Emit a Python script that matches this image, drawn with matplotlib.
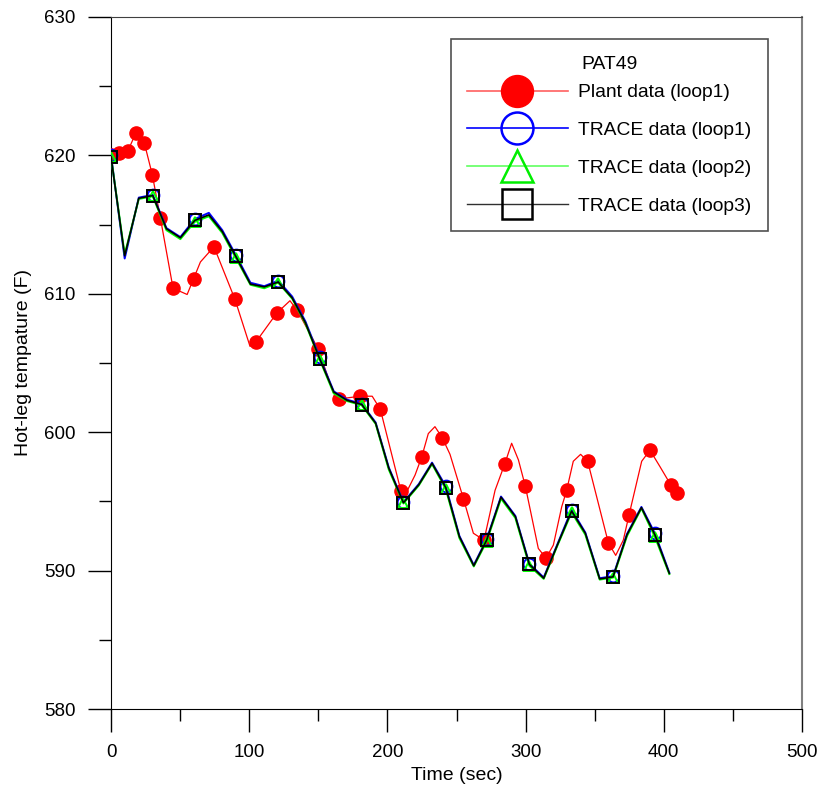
import matplotlib
matplotlib.use("Agg")
import matplotlib.pyplot as plt
from matplotlib.lines import Line2D
from matplotlib.ticker import MultipleLocator

plt.rcParams['font.family'] = ['Liberation Sans', 'DejaVu Sans']

# plant data (loop1): line vertices and measured points
plant_line_t = [0, 5.8, 12.1, 17.9, 24.1, 29.9, 35.7, 44.9, 55.1, 59.8, 64.7, 74.5,
                89.7, 100.6, 104.7, 119.9, 129.5, 134.8, 150.0, 160.9, 165.0, 180.2,
                189.0, 194.9, 209.8, 212.0, 220.0, 224.8, 229.6, 234.4, 239.7, 245.3,
                255.0, 262.2, 269.9, 277.9, 284.9, 289.9, 294.8, 299.8, 309.2, 314.8,
                320.1, 326.1, 329.7, 334.5, 339.8, 344.9, 359.9, 365.2, 370.7, 374.8,
                384.0, 390.0, 397.3, 405.0, 409.3]
plant_line_y = [620.0, 620.15, 620.3, 621.6, 620.9, 618.6, 615.5, 610.4, 609.95, 611.1,
                612.3, 613.4, 609.6, 606.2, 606.5, 608.6, 609.5, 608.8, 606.0, 602.85,
                602.4, 602.6, 602.6, 601.65, 595.75, 595.3, 596.9, 598.2, 599.9, 600.4,
                599.6, 598.4, 595.2, 592.7, 592.2, 595.8, 597.7, 599.2, 598.0, 596.1,
                591.6, 590.9, 591.85, 594.6, 595.8, 597.9, 598.4, 597.9, 592.0, 591.1,
                592.2, 594.0, 597.9, 598.7, 597.5, 596.2, 595.6]

plant_t = [0, 5.8, 12.1, 17.9, 24.1, 29.9, 35.7, 44.9, 59.8, 74.5, 89.7, 104.7, 119.9,
           134.8, 150.0, 165.0, 180.2, 194.9, 209.8, 224.8, 239.7, 255.0, 269.9, 284.9,
           299.8, 314.8, 329.7, 344.9, 359.9, 374.8, 390.0, 405.0, 409.3]
plant_y = [620.0, 620.15, 620.3, 621.6, 620.9, 618.6, 615.5, 610.4, 611.1, 613.4, 609.6,
           606.5, 608.6, 608.8, 606.0, 602.4, 602.6, 601.65, 595.75, 598.2, 599.6, 595.2,
           592.2, 597.7, 596.1, 590.9, 595.8, 597.9, 592.0, 594.0, 598.7, 596.2, 595.6]

# TRACE results
trace_t = [0, 9.9, 20.1, 30.2, 40.1, 50.2, 60.6, 70.8, 80.5, 90.3, 100.9, 110.9, 121.0,
           131.1, 140.7, 151.0, 161.2, 170.8, 181.4, 191.5, 201.0, 211.6, 222.7, 232.3,
           242.2, 252.1, 262.5, 271.8, 282.2, 292.6, 302.7, 313.1, 323.2, 333.3, 343.2,
           353.6, 363.3, 373.4, 383.8, 393.5, 404.0]
trace_loop1 = [620.0, 612.55, 616.95, 617.15, 614.75, 614.1, 615.4, 615.85, 614.6, 612.8,
               610.8, 610.55, 610.95, 609.8, 608.0, 605.4, 602.95, 602.35, 602.05, 600.7,
               597.45, 594.95, 596.25, 597.8, 596.1, 592.5, 590.4, 592.25, 595.35, 593.95,
               590.5, 589.5, 591.95, 594.4, 592.75, 589.45, 589.6, 592.65, 594.6, 592.7, 589.85]
trace_loop2 = [619.9, 612.85, 616.85, 617.05, 614.6, 613.95, 615.2, 615.6, 614.4, 612.6,
               610.65, 610.4, 610.8, 609.65, 607.85, 605.25, 602.8, 602.25, 601.95, 600.6,
               597.3, 594.85, 596.15, 597.7, 595.9, 592.35, 590.3, 592.1, 595.2, 593.8,
               590.35, 589.4, 591.85, 594.2, 592.6, 589.35, 589.5, 592.5, 594.5, 592.45, 589.75]
trace_loop3 = [619.9, 612.75, 616.9, 617.1, 614.7, 614.05, 615.3, 615.7, 614.5, 612.7,
               610.7, 610.5, 610.85, 609.7, 607.9, 605.3, 602.9, 602.3, 602.0, 600.65,
               597.4, 594.9, 596.2, 597.75, 596.0, 592.45, 590.35, 592.2, 595.3, 593.9,
               590.45, 589.45, 591.9, 594.3, 592.7, 589.4, 589.55, 592.6, 594.55, 592.6, 589.8]

labels = ['Plant data (loop1)', 'TRACE data (loop1)', 'TRACE data (loop2)', 'TRACE data (loop3)']

fig = plt.figure(figsize=(8.23, 7.95), dpi=100)
ax = fig.add_axes([111 / 823, 1 - 709 / 795, 691 / 823, 692 / 795])

ax.plot(plant_line_t, plant_line_y, color='#ff0000', lw=0.9, zorder=2)
ax.plot(plant_t, plant_y, ls='none', marker='o', ms=9.5, mfc='#ff0000', mec='#ff0000', zorder=3)

ax.plot(trace_t, trace_loop1, color='#0000ff', lw=1.4, marker='o', markevery=3, ms=8.5,
        mfc='none', mec='#0000ff', mew=1.4, zorder=4)
ax.plot(trace_t, trace_loop2, color='#00ff00', lw=1.4, marker='^', markevery=3, ms=7.5,
        mfc='none', mec='#00ff00', mew=1.4, zorder=5)
ax.plot(trace_t, trace_loop3, color='#000000', lw=1.2, marker='s', markevery=3, ms=8.5,
        mfc='none', mec='#000000', mew=1.4, zorder=6)

ax.set_xlim(0, 500)
ax.set_ylim(580, 630)
ax.xaxis.set_major_locator(MultipleLocator(100))
ax.xaxis.set_minor_locator(MultipleLocator(50))
ax.yaxis.set_major_locator(MultipleLocator(10))
ax.yaxis.set_minor_locator(MultipleLocator(5))
ax.tick_params(which='major', direction='out', length=16.5, width=1, labelsize=13.5, pad=9)
ax.tick_params(which='minor', direction='out', length=8.5, width=1)

ax.spines['left'].set_color('#000000')
ax.spines['bottom'].set_color('#000000')
ax.spines['top'].set_color('#404040')
ax.spines['right'].set_color('#808080')
ax.spines['right'].set_linewidth(1.5)

ax.set_xlabel('Time (sec)', fontsize=14, labelpad=4)
ax.set_ylabel('Hot-leg tempature (F)', fontsize=14, labelpad=9)

handles = [
    Line2D([], [], color='#ff6060', lw=1.2, marker='o', ms=23, mfc='#ff0000', mec='#ff0000'),
    Line2D([], [], color='#0000ff', lw=1.2, marker='o', ms=23, mfc='none', mec='#0000ff', mew=1.8),
    Line2D([], [], color='#60ff60', lw=1.2, marker='^', ms=23, mfc='none', mec='#00ee00', mew=1.8),
    Line2D([], [], color='#303030', lw=1.0, marker='s', ms=22, mfc='none', mec='#000000', mew=1.8),
]
leg = ax.legend(handles, labels, title='PAT49', loc='upper right',
                bbox_to_anchor=(0.951, 0.968), fontsize=13.9, title_fontsize=13.9,
                frameon=True, fancybox=False, edgecolor='#505050', framealpha=1,
                handlelength=5.2, handletextpad=0.55, labelspacing=1.05,
                borderpad=0.86, borderaxespad=0)
leg.get_frame().set_linewidth(1.2)
# tighter gap between the title and the first entry
leg._legend_box.sep = 8.0

fig.savefig('out.png', dpi=100)
